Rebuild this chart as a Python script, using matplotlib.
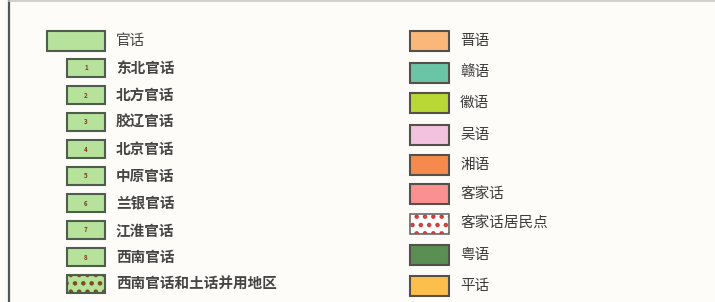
import matplotlib
matplotlib.use("Agg")
import matplotlib.pyplot as plt
from matplotlib.patches import Rectangle

plt.rcParams['font.family'] = ['Noto Sans CJK SC', 'DejaVu Sans']
plt.rcParams['hatch.linewidth'] = 2.0

# left column: Mandarin and its sub-groups
left_labels = ['官话', '东北官话', '北方官话', '胶辽官话', '北京官话', '中原官话',
               '兰银官话', '江淮官话', '西南官话', '西南官话和土话并用地区']
left_tags = ['', '1', '2', '3', '4', '5', '6', '7', '8', '']

# right column: other dialect groups
right_labels = ['晋语', '赣语', '徽语', '吴语', '湘语', '客家话', '客家话居民点', '粤语', '平话']
right_colors = ['#f9b878', '#6cc4a6', '#b9d735', '#f2c2de', '#f68a4c',
                '#fa9090', '#ffffff', '#5b8e52', '#fcbf4c']
right_dots = ['', '', '', '', '', '', '#d23a3a', '', '']

green = '#b6e29c'
fig = plt.figure(figsize=(7.15, 3.02), dpi=100)
fig.patch.set_facecolor('#fdfcf9')
ax = fig.add_axes([0, 0, 1, 1])
ax.set_xlim(0, 715)
ax.set_ylim(302, 0)
ax.axis('off')

# frame lines
ax.plot([9, 9], [0, 302], color='#50585a', lw=1.6)
ax.plot([9, 715], [1, 1], color='#c8c8c8', lw=1.2)

# left column
y0, dy = 41, 27
for i, lab in enumerate(left_labels):
    y = y0 + i * dy
    if i == 0:
        x, w, h = 47, 58, 20
    else:
        x, w, h = 67, 38, 18
    last = i == len(left_labels) - 1
    if last:
        ax.add_patch(Rectangle((x, y - h / 2), w, h, facecolor=green, edgecolor='#7a4a18',
                               hatch='..', lw=0))
    ax.add_patch(Rectangle((x, y - h / 2), w, h, facecolor='none' if last else green,
                           edgecolor='#4f5e4c', lw=1.5))
    if left_tags[i]:
        ax.text(x + w / 2, y, left_tags[i], ha='center', va='center', fontsize=4.5,
                color='#8a3412', fontweight='bold')
    ax.text(116, y, lab, ha='left', va='center', fontsize=10.5,
            color='#454545', fontweight='bold' if i > 0 else 'normal')

# right column
ry = [41, 73, 103, 135, 165, 194, 224, 255, 286]
for i, lab in enumerate(right_labels):
    y = ry[i]
    x, w, h = 410, 39, 20
    if right_dots[i]:
        ax.add_patch(Rectangle((x, y - h / 2), w, h, facecolor=right_colors[i],
                               edgecolor=right_dots[i], hatch='..', lw=0))
        ax.add_patch(Rectangle((x, y - h / 2), w, h, facecolor='none',
                               edgecolor='#6a6a6a', lw=1.2))
    else:
        ax.add_patch(Rectangle((x, y - h / 2), w, h, facecolor=right_colors[i],
                               edgecolor='#55504a', lw=1.5))
    ax.text(460, y, lab, ha='left', va='center', fontsize=10.5, color='#3c3c3c')

fig.savefig('out.png', dpi=100, facecolor=fig.get_facecolor())
